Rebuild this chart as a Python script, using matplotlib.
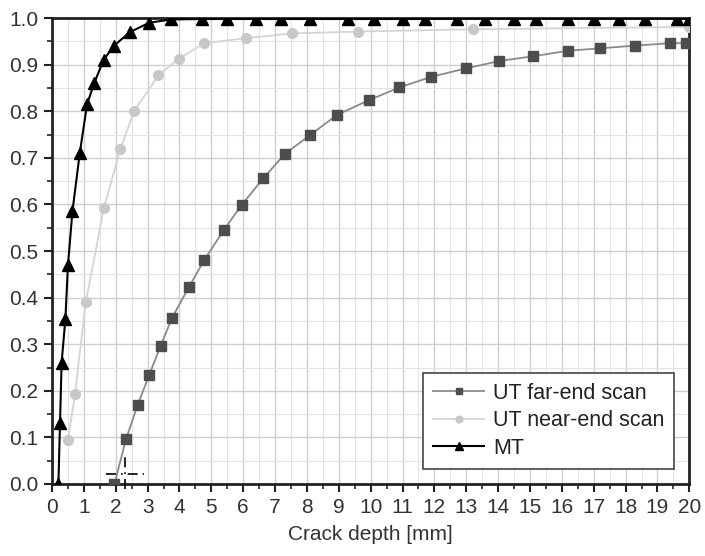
import matplotlib
matplotlib.use("Agg")
import matplotlib.pyplot as plt
from matplotlib.ticker import MultipleLocator, FormatStrFormatter

plt.rcParams['font.family'] = ['Liberation Sans', 'DejaVu Sans']

# crack depth [mm] / probability of detection
mt_x = [0.2, 0.25, 0.3, 0.42, 0.5, 0.64, 0.87, 1.1, 1.32, 1.62, 1.93, 2.45, 3.05, 3.73,
        4.7, 5.5, 6.4, 7.2, 8.1, 9.3, 10.1, 11.0, 11.7, 12.7, 13.6, 14.5, 15.2, 16.2,
        17.0, 17.8, 18.6, 19.6, 20.0]
mt_y = [0.0, 0.13, 0.26, 0.355, 0.47, 0.585, 0.71, 0.815, 0.86, 0.91, 0.94, 0.97, 0.99, 0.997,
        0.998, 0.998, 0.998, 0.998, 0.998, 0.998, 0.998, 0.998, 0.998, 0.999, 0.999, 0.999,
        0.999, 0.999, 0.999, 0.999, 0.999, 0.999, 0.999]

near_x = [0.5, 0.72, 1.06, 1.63, 2.14, 2.58, 3.34, 3.98, 4.78, 6.1, 7.53, 9.61, 13.2, 20.0]
near_y = [0.094, 0.193, 0.391, 0.593, 0.718, 0.801, 0.877, 0.913, 0.946, 0.957, 0.967,
          0.971, 0.976, 0.981]

far_x = [1.96, 2.32, 2.69, 3.05, 3.41, 3.77, 4.29, 4.78, 5.40, 5.95, 6.63, 7.3, 8.1, 8.94,
         9.95, 10.9, 11.9, 13.0, 14.04, 15.1, 16.2, 17.2, 18.3, 19.4, 19.9]
far_y = [0.0, 0.096, 0.17, 0.234, 0.297, 0.357, 0.422, 0.481, 0.546, 0.599, 0.656, 0.708,
         0.749, 0.792, 0.824, 0.851, 0.874, 0.892, 0.908, 0.918, 0.93, 0.935, 0.941, 0.946,
         0.946]

# a90 crosshair of the far-end scan
a90_x = 2.3
a90_y = 0.021

fig = plt.figure(figsize=(7.05, 5.56), dpi=100)
ax = fig.add_axes([0.0738, 0.1295, 0.904, 0.838])

ax.plot(far_x, far_y, color='#8a8a8a', lw=1.3, marker='s', ms=6.5,
        mfc='#4d4d4d', mec='#4d4d4d', label='UT far-end scan', zorder=3)
ax.plot(near_x, near_y, color='#d4d4d4', lw=1.3, marker='o', ms=7,
        mfc='#c8c8c8', mec='#c8c8c8', label='UT near-end scan', zorder=3)
ax.plot(mt_x, mt_y, color='black', lw=1.5, marker='^', ms=8,
        mfc='black', mec='black', label='MT', zorder=4)

# dash-dot crosshair
ax.plot([a90_x - 0.6, a90_x + 0.6], [a90_y, a90_y], color='black', lw=1.2,
        ls=(0, (6, 3, 1, 3)), zorder=5, clip_on=False)
ax.plot([a90_x, a90_x], [-0.01, 0.065], color='black', lw=1.2,
        ls=(0, (6, 3, 1, 3)), zorder=5, clip_on=False)

ax.set_xlim(0, 20)
ax.set_ylim(0, 1.0)
ax.xaxis.set_major_locator(MultipleLocator(1))
ax.xaxis.set_minor_locator(MultipleLocator(0.5))
ax.yaxis.set_major_locator(MultipleLocator(0.1))
ax.yaxis.set_minor_locator(MultipleLocator(0.05))
ax.yaxis.set_major_formatter(FormatStrFormatter('%.1f'))

ax.grid(which='major', color='#cfcfcf', lw=1.0)
ax.grid(which='minor', color='#e4e4e4', lw=0.8)
ax.set_axisbelow(True)

for s in ax.spines.values():
    s.set_linewidth(2.0)
    s.set_color('#222222')

ax.tick_params(which='major', direction='out', length=6, width=1.5, labelsize=15,
               colors='#222222', labelcolor='#333333', pad=4)
ax.tick_params(which='minor', direction='out', length=3.5, width=1.2, colors='#222222')

ax.set_xlabel('Crack depth [mm]', fontsize=15, color='#333333', labelpad=6)

leg = ax.legend(loc='lower right', fontsize=15.5, frameon=True, fancybox=False,
                edgecolor='#444444', framealpha=1, numpoints=1, handlelength=2.4,
                handletextpad=0.4, markerscale=0.7,
                borderpad=0.45, labelspacing=0.3, bbox_to_anchor=(0.993, 0.01))
leg.get_frame().set_linewidth(1.2)
for t in leg.get_texts():
    t.set_color('#222222')

fig.savefig('out.png', dpi=100)
